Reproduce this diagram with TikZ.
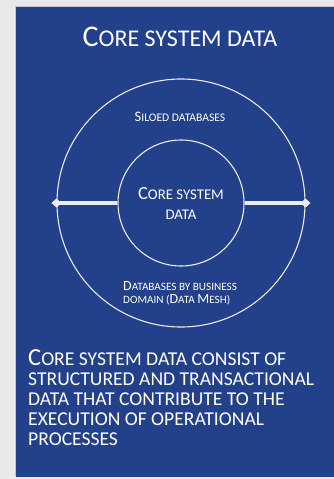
\documentclass[tikz,border=0pt]{standalone}
\usepackage{fontspec}
\setmainfont{Carlito}
\usetikzlibrary{arrows.meta,shadows}
\makeatletter
\newcommand\kap[1]{{\fontsize{\fpeval{0.8*\f@size}}{\f@baselineskip}\selectfont #1}}
\makeatother
\definecolor{panelblue}{RGB}{35,64,139}
\definecolor{pagegray}{RGB}{233,233,233}
\definecolor{ringwhite}{RGB}{235,235,240}
\tikzset{
  ring/.style={circle, draw=ringwhite, line width=1.1pt, inner sep=0pt},
  spoke/.style={ringwhite, line width=3.5pt, shorten <=-5pt, {Diamond[width=9pt,length=10pt]}-},
  lbl/.style={text=white, inner sep=0pt},
}

\begin{document}
\begin{tikzpicture}[x=1pt,y=-1pt]
\useasboundingbox (0,0) rectangle (334,479);
\fill[pagegray] (0,0) rectangle (334,479);
\fill[panelblue, drop shadow={shadow xshift=-1.5pt,shadow yshift=1.5pt,opacity=.35}] (16,7) rectangle (340,477);

\node[lbl, font=\fontsize{30}{34}\selectfont] (title) at (180,37) {C\kap{ORE SYSTEM DATA}};

% rings
\node[ring, minimum size=248pt] (outer) at (181,203) {};
\node[ring, minimum size=126pt, text=white, align=center, font=\fontsize{18.5}{20}\selectfont] (core) at (181,203) {C\kap{ORE SYSTEM}\\\kap{DATA}};
\draw[spoke] (outer.west) -- (core.west);
\draw[spoke] (outer.east) -- (core.east);

\node[lbl, font=\fontsize{14.5}{16}\selectfont] (siloed) at (180,117) {S\kap{ILOED DATABASES}};
\node[lbl, anchor=west, align=left, font=\fontsize{14}{13}\selectfont] (mesh) at (123,293)
  {D\kap{ATABASES BY BUSINESS}\\\kap{DOMAIN (}D\kap{ATA }M\kap{ESH)}};

\node[lbl, anchor=north west, align=left, font=\fontsize{24.5}{20}\selectfont] (desc) at (28,349)
  {C\kap{ORE SYSTEM DATA CONSIST OF}\\
   \kap{STRUCTURED AND TRANSACTIONAL}\\
   \kap{DATA THAT CONTRIBUTE TO THE}\\
   \kap{EXECUTION OF OPERATIONAL}\\
   \kap{PROCESSES}};
\end{tikzpicture}
\end{document}
